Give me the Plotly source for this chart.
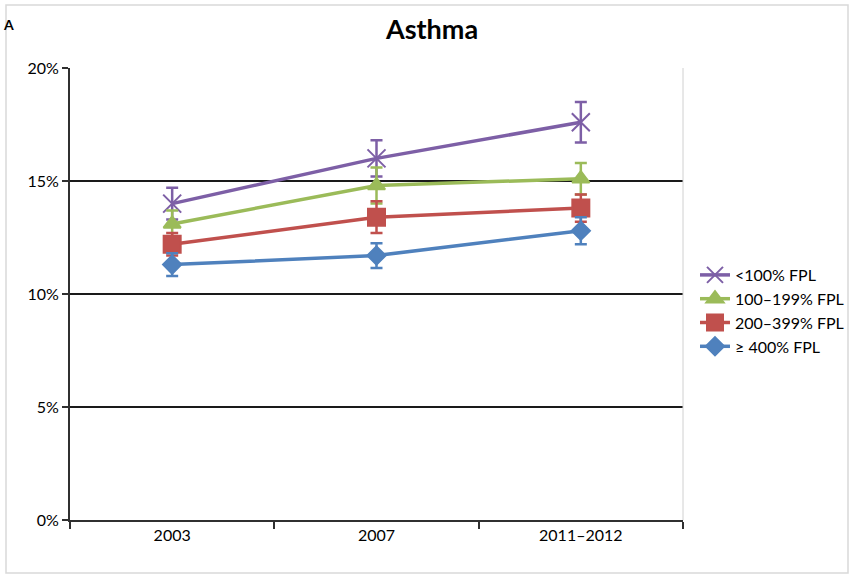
import plotly.graph_objects as go

# Survey periods and asthma prevalence (%) by income group
periods = ["2003", "2007", "2011\u20132012"]

series_names = ["<100% FPL", "100\u2013199% FPL", "200\u2013399% FPL", "\u2265 400% FPL"]
below_100 = [14.0, 16.0, 17.6]
fpl_100_199 = [13.1, 14.8, 15.1]
fpl_200_399 = [12.2, 13.4, 13.8]
fpl_400_plus = [11.3, 11.7, 12.8]

err_below_100 = [0.7, 0.8, 0.9]
err_100_199 = [0.6, 0.8, 0.7]
err_200_399 = [0.5, 0.7, 0.6]
err_400_plus = [0.5, 0.55, 0.6]

y_ticks = [0, 5, 10, 15, 20]
y_tick_labels = ["0%", "5%", "10%", "15%", "20%"]

colors = ["#7D5FA6", "#9BBB59", "#C0504D", "#4F81BD"]
symbols = ["x-thin-open", "triangle-up", "square", "diamond"]
sizes = [18, 15, 17, 14]

values = [below_100, fpl_100_199, fpl_200_399, fpl_400_plus]
errors = [err_below_100, err_100_199, err_200_399, err_400_plus]

fig = go.Figure()
for name, vals, errs, col, sym, sz in zip(series_names, values, errors, colors, symbols, sizes):
    fig.add_trace(go.Scatter(
        x=periods, y=vals, name=name, mode="lines+markers",
        line=dict(color=col, width=3.5),
        marker=dict(symbol=sym, size=sz, color=col,
                    line=dict(color=col, width=2)),
        error_y=dict(type="data", array=errs, visible=True,
                     color=col, thickness=2.5, width=6),
    ))

# Light frame around the whole chart
L, R, T, B = 70, 683, 68, 520
pw, ph = R - L, B - T
fig.add_shape(type="rect", xref="paper", yref="paper",
              x0=(6 - L) / pw, x1=(848 - L) / pw,
              y0=(B - 573) / ph, y1=(B - 5) / ph,
              line=dict(color="#D9D9D9", width=1.5), layer="below")
# Right edge of the plot area
fig.add_shape(type="line", xref="paper", yref="paper", x0=1, x1=1, y0=0, y1=1,
              line=dict(color="#D0D0D0", width=1))

fig.add_annotation(text="<b>A</b>", xref="paper", yref="paper",
                   x=(1 - L) / pw, y=(B - 24) / ph, showarrow=False,
                   xanchor="left", yanchor="middle",
                   font=dict(family="Lato", size=14, color="black"))

fig.update_layout(
    width=850, height=576,
    margin=dict(l=L, r=850 - R, t=T, b=576 - B, autoexpand=False),
    paper_bgcolor="white", plot_bgcolor="white",
    font=dict(family="Lato", size=16, color="black"),
    title=dict(text="<b>Asthma</b>", x=432 / 850, xanchor="center",
               y=1 - 30 / 576, yanchor="middle",
               font=dict(family="Lato", size=27, color="black")),
    showlegend=True,
    legend=dict(x=(695 - L) / pw, y=(B - 258) / ph, xanchor="left", yanchor="top",
                font=dict(family="Lato", size=16, color="black"),
                bgcolor="rgba(0,0,0,0)", itemwidth=30, tracegroupgap=0),
)

fig.update_xaxes(
    type="category", range=[-0.5, 2.5],
    showline=True, linecolor="#303030", linewidth=2,
    ticks="outside", tickson="boundaries", ticklen=7, tickcolor="#303030", tickwidth=2,
    showgrid=False, tickfont=dict(family="Lato", size=16),
)
fig.update_yaxes(
    range=[0, 20], tickvals=y_ticks, ticktext=y_tick_labels,
    showline=True, linecolor="#303030", linewidth=2,
    ticks="outside", ticklen=6, tickcolor="#303030", tickwidth=2,
    showgrid=True, gridcolor="#1A1A1A", gridwidth=2,
    zeroline=False, tickfont=dict(family="Lato", size=16),
)

fig.write_html("out.html")
